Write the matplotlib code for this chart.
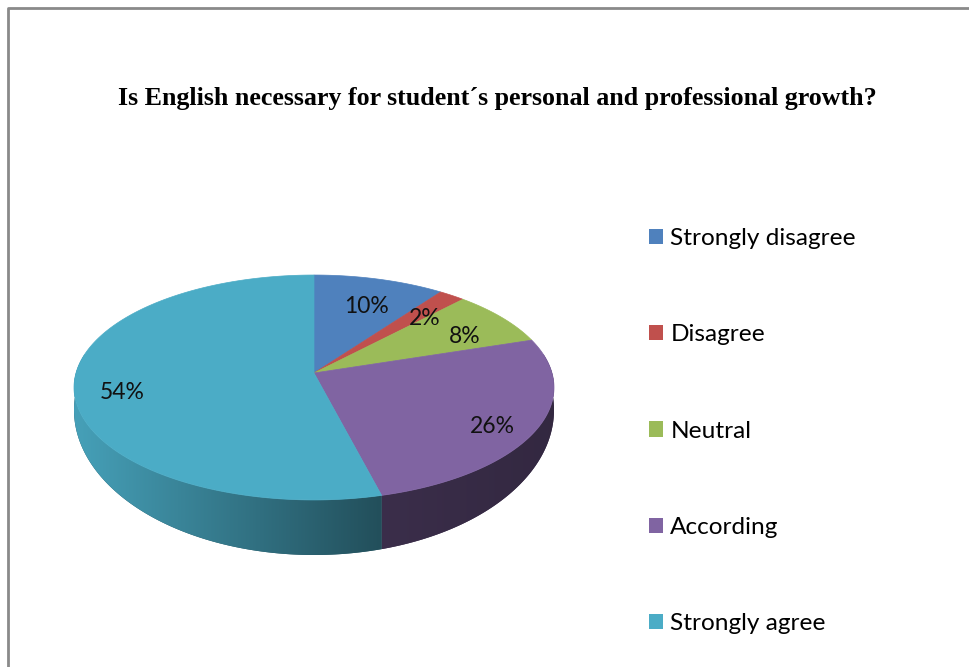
import numpy as np
import matplotlib
matplotlib.use("Agg")
import matplotlib.pyplot as plt
from matplotlib.patches import Polygon, Rectangle
from matplotlib.colors import to_rgb

title = "Is English necessary for student\u00b4s personal and professional growth?"
categories = ["Strongly disagree", "Disagree", "Neutral", "According", "Strongly agree"]
values = [10, 2, 8, 26, 54]
pct_labels = ["10%", "2%", "8%", "26%", "54%"]
colors = ["#4f81bd", "#c0504d", "#9bbb59", "#8064a2", "#4bacc6"]

W, H = 970, 667
fig = plt.figure(figsize=(9.7, 6.67), dpi=100)
ax = fig.add_axes([0, 0, 1, 1])
ax.set_xlim(0, W)
ax.set_ylim(H, 0)
ax.axis("off")

# frame (chart area border)
ax.plot([8, 8, W + 5], [H + 5, 8, 8], color="#8a8a8a", lw=2, solid_capstyle="butt")

# pie geometry (perspective-projected cylinder)
CX, CY, R = 314, 373, 238
KT, KB, DROP, PD = 110.6, 142.6, 18.3, 7.76


def proj(theta, level=0.0, frac=1.0):
    X = np.sin(theta)
    Z = np.cos(theta)
    s = PD / (PD + Z)
    k = KT + (KB - KT) * level
    return CX + R * frac * X * s, CY + DROP * level + k * frac * (-Z) * s


total = float(sum(values))
cum = np.concatenate([[0], np.cumsum(values)]) / total * 2 * np.pi

# horizontal shading for the side walls
gx = np.linspace(CX - R - 10, CX + R + 10, 600)
gshade = np.interp(gx, [CX - R, 380, CX + R], [0.93, 0.46, 0.40])
ext = [gx[0], gx[-1], CY + 220, CY - 150]

# side walls
for i, c in enumerate(colors):
    a0, a1 = cum[i], cum[i + 1]
    lo, hi = max(a0, np.radians(80)), min(a1, np.radians(280))
    if hi <= lo:
        continue
    t = np.linspace(lo, hi, max(4, int(np.degrees(hi - lo) * 3)))
    xt, yt = proj(t, 0)
    xb, yb = proj(t[::-1], 1)
    base = np.array(to_rgb(c))
    poly = Polygon(np.column_stack([np.r_[xt, xb], np.r_[yt, yb]]), closed=True,
                   facecolor=base * 0.5, edgecolor="none", lw=0)
    ax.add_patch(poly)
    img = np.clip(gshade[None, :, None] * base[None, None, :], 0, 1)
    img = np.repeat(img, 2, axis=0)
    im = ax.imshow(img, extent=ext, aspect="auto", interpolation="bilinear", zorder=1.5)
    im.set_clip_path(poly)

# top faces
for i, c in enumerate(colors):
    a0, a1 = cum[i], cum[i + 1]
    t = np.linspace(a0, a1, max(4, int(np.degrees(a1 - a0) * 2)))
    xs, ys = proj(t, 0)
    pts = np.column_stack([np.r_[CX, xs], np.r_[CY, ys]])
    ax.add_patch(Polygon(pts, closed=True, facecolor=c, edgecolor=c, lw=0.5, zorder=2))

# percentage labels
for i, lab in enumerate(pct_labels):
    mid = 0.5 * (cum[i] + cum[i + 1])
    x, y = proj(mid, 0, 0.8)
    ax.text(x, y + 8, lab, ha="center", va="center", fontsize=16.5,
            family="Lato", color="#111111", zorder=3)

ax.set_xlim(0, W)
ax.set_ylim(H, 0)

# title
ax.text(497, 99, title, ha="center", va="center", fontsize=18.7,
        family="Liberation Serif", fontweight="bold", color="black")

# legend
handles = [Rectangle((0, 0), 1, 1, facecolor=c, edgecolor="none") for c in colors]
leg = ax.legend(handles, categories, loc="upper left", bbox_to_anchor=(649 / W, 1 - 228 / H),
                frameon=False, prop={"family": "Lato", "size": 17.6},
                handlelength=0.58, handleheight=0.58, handletextpad=0.29,
                labelspacing=3.08, borderpad=0, borderaxespad=0)

fig.savefig("out.png", dpi=100)
